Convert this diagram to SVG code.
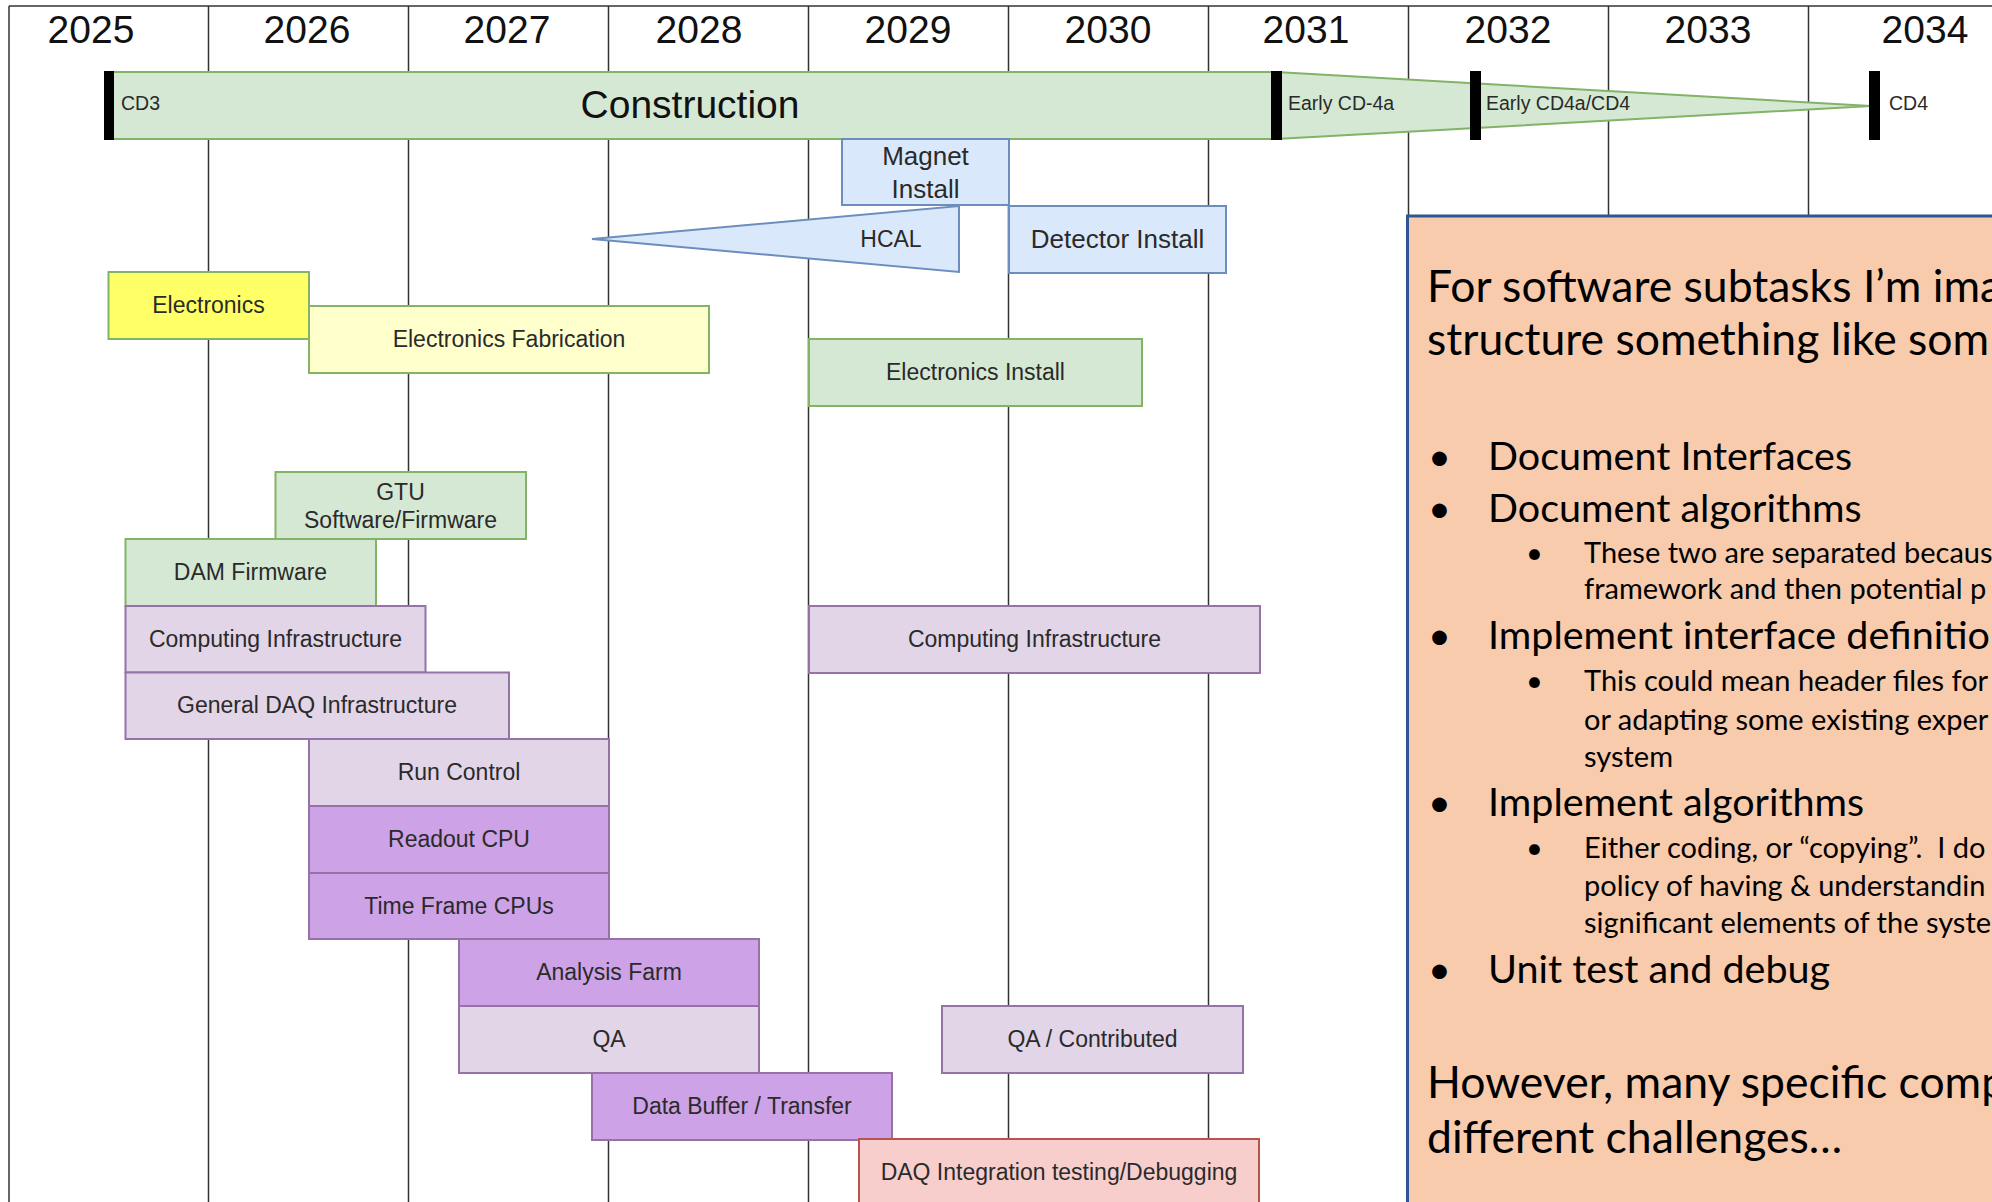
<svg xmlns="http://www.w3.org/2000/svg" width="1992" height="1202" viewBox="0 0 1992 1202">
<style>
.grid{stroke:#333;stroke-width:1.5;fill:none}
.yr{font-family:"Liberation Sans",Arial,sans-serif;font-size:39px;fill:#111;text-anchor:middle}
.lbl{font-family:"Liberation Sans",Arial,sans-serif;font-size:23px;fill:#2a2a2a;text-anchor:middle}
.big{font-family:"Liberation Sans",Arial,sans-serif;font-size:26px;fill:#2a2a2a;text-anchor:middle}
.ms{font-family:"Liberation Sans",Arial,sans-serif;font-size:19.5px;fill:#2a2a2a}
.green{fill:#d5e8d4;stroke:#82b366;stroke-width:2}
.yel{fill:#ffff66;stroke:#82b366;stroke-width:2}
.lyel{fill:#ffffcc;stroke:#82b366;stroke-width:2}
.blue{fill:#dae8fc;stroke:#6c8ebf;stroke-width:2}
.lpur{fill:#e1d5e7;stroke:#9673a6;stroke-width:2}
.dpur{fill:#cda2e6;stroke:#9673a6;stroke-width:2}
.red{fill:#f8cecc;stroke:#b85450;stroke-width:2}
.bar{fill:#000}
.note{font-family:Lato,"Liberation Sans",sans-serif;fill:#000}
.h{font-size:44.5px}
.b{font-size:39.5px}
.s{font-size:29px}
</style>
<rect width="1992" height="1202" fill="#fff"/>
<g id="grid">
<line class="grid" x1="9" y1="6" x2="1992" y2="6"/>
<line class="grid" x1="9" y1="6" x2="9" y2="1202"/>
<line class="grid" x1="208.5" y1="6" x2="208.5" y2="1202"/>
<line class="grid" x1="408.5" y1="6" x2="408.5" y2="1202"/>
<line class="grid" x1="608.5" y1="6" x2="608.5" y2="1202"/>
<line class="grid" x1="808.5" y1="6" x2="808.5" y2="1202"/>
<line class="grid" x1="1008.5" y1="6" x2="1008.5" y2="1202"/>
<line class="grid" x1="1208.5" y1="6" x2="1208.5" y2="1202"/>
<line class="grid" x1="1408.5" y1="6" x2="1408.5" y2="216"/>
<line class="grid" x1="1608.5" y1="6" x2="1608.5" y2="216"/>
<line class="grid" x1="1808.5" y1="6" x2="1808.5" y2="216"/>
</g>
<g id="years">
<text class="yr" x="91" y="43">2025</text>
<text class="yr" x="307" y="43">2026</text>
<text class="yr" x="507" y="43">2027</text>
<text class="yr" x="699" y="43">2028</text>
<text class="yr" x="908" y="43">2029</text>
<text class="yr" x="1108" y="43">2030</text>
<text class="yr" x="1306" y="43">2031</text>
<text class="yr" x="1508" y="43">2032</text>
<text class="yr" x="1708" y="43">2033</text>
<text class="yr" x="1925" y="43">2034</text>
</g>
<g id="construction">
<polygon class="green" points="105,72 1276,72 1871,106 1276,139 105,139"/>
<rect class="bar" x="104" y="71" width="10" height="69"/>
<rect class="bar" x="1271" y="71" width="11" height="69"/>
<rect class="bar" x="1470" y="71" width="11" height="69"/>
<rect class="bar" x="1869" y="71" width="11" height="69"/>
<text class="yr" x="690" y="118">Construction</text>
<text class="ms" x="121" y="110">CD3</text>
<text class="ms" x="1288" y="110">Early CD-4a</text>
<text class="ms" x="1486" y="110">Early CD4a/CD4</text>
<text class="ms" x="1889" y="110">CD4</text>
</g>
<g id="magnet-install">
<rect class="blue" x="842" y="139" width="167" height="66"/>
<text class="big" x="925.5" y="165">Magnet</text>
<text class="big" x="925.5" y="198">Install</text>
</g>
<g id="hcal">
<polygon class="blue" points="592,239 959,206 959,272"/>
<text class="lbl" x="891" y="247">HCAL</text>
</g>
<g id="detector-install">
<rect class="blue" x="1009" y="206" width="217" height="67"/>
<text class="big" x="1117.5" y="248">Detector Install</text>
</g>
<g id="electronics">
<rect class="yel" x="108.5" y="272" width="200.5" height="67"/>
<text class="lbl" x="208.5" y="313">Electronics</text>
</g>
<g id="electronics-fabrication">
<rect class="lyel" x="309" y="306" width="400" height="67"/>
<text class="lbl" x="509" y="347">Electronics Fabrication</text>
</g>
<g id="electronics-install">
<rect class="green" x="809" y="339" width="333" height="67"/>
<text class="lbl" x="975.5" y="380">Electronics Install</text>
</g>
<g id="gtu">
<rect class="green" x="275.5" y="472" width="250.5" height="67"/>
<text class="lbl" x="400.5" y="500">GTU</text>
<text class="lbl" x="400.5" y="528">Software/Firmware</text>
</g>
<g id="dam-firmware">
<rect class="green" x="125.5" y="539" width="250.5" height="67"/>
<text class="lbl" x="250.5" y="580">DAM Firmware</text>
</g>
<g id="computing-infrastructure-1">
<rect class="lpur" x="125.5" y="606" width="300" height="66.5"/>
<text class="lbl" x="275.5" y="647">Computing Infrastructure</text>
</g>
<g id="general-daq">
<rect class="lpur" x="125.5" y="672.5" width="383.5" height="66.5"/>
<text class="lbl" x="317" y="713">General DAQ Infrastructure</text>
</g>
<g id="run-control">
<rect class="lpur" x="309" y="739" width="300" height="67"/>
<text class="lbl" x="459" y="780">Run Control</text>
</g>
<g id="readout-cpu">
<rect class="dpur" x="309" y="806" width="300" height="67"/>
<text class="lbl" x="459" y="847">Readout CPU</text>
</g>
<g id="time-frame-cpus">
<rect class="dpur" x="309" y="873" width="300" height="66"/>
<text class="lbl" x="459" y="914">Time Frame CPUs</text>
</g>
<g id="analysis-farm">
<rect class="dpur" x="459" y="939" width="300" height="67"/>
<text class="lbl" x="609" y="980">Analysis Farm</text>
</g>
<g id="qa">
<rect class="lpur" x="459" y="1006" width="300" height="67"/>
<text class="lbl" x="609" y="1047">QA</text>
</g>
<g id="data-buffer">
<rect class="dpur" x="592" y="1073" width="300" height="67"/>
<text class="lbl" x="742" y="1114">Data Buffer / Transfer</text>
</g>
<g id="computing-infrastructure-2">
<rect class="lpur" x="809" y="606" width="451" height="67"/>
<text class="lbl" x="1034.5" y="647">Computing Infrastructure</text>
</g>
<g id="qa-contributed">
<rect class="lpur" x="942" y="1006" width="301" height="67"/>
<text class="lbl" x="1092.5" y="1047">QA / Contributed</text>
</g>
<g id="daq-integration">
<rect class="red" x="859" y="1139" width="400" height="67"/>
<text class="lbl" x="1059" y="1180">DAQ Integration testing/Debugging</text>
</g>
<g id="connectors"></g>
<g id="note">
<rect x="1407.5" y="216" width="620" height="1020" fill="#f8cbad" stroke="#2f5597" stroke-width="3"/>
<text class="note h" x="1427" y="302">For software subtasks I’m ima</text>
<text class="note h" x="1427" y="355">structure something like som</text>
<text class="note b" x="1428" y="470">•</text>
<text class="note b" x="1488" y="470">Document Interfaces</text>
<text class="note b" x="1428" y="522">•</text>
<text class="note b" x="1488" y="522">Document algorithms</text>
<text class="note s" x="1526" y="563">•</text>
<text class="note s" x="1584" y="563">These two are separated becaus</text>
<text class="note s" x="1584" y="599">framework and then potential p</text>
<text class="note b" x="1428" y="649">•</text>
<text class="note b" x="1488" y="649">Implement interface definitio</text>
<text class="note s" x="1526" y="691">•</text>
<text class="note s" x="1584" y="691">This could mean header files for</text>
<text class="note s" x="1584" y="730">or adapting some existing exper</text>
<text class="note s" x="1584" y="767">system</text>
<text class="note b" x="1428" y="816">•</text>
<text class="note b" x="1488" y="816">Implement algorithms</text>
<text class="note s" x="1526" y="858">•</text>
<text class="note s" x="1584" y="858" style="white-space:pre">Either coding, or “copying”.  I do</text>
<text class="note s" x="1584" y="896">policy of having &amp; understandin</text>
<text class="note s" x="1584" y="933">significant elements of the syste</text>
<text class="note b" x="1428" y="983">•</text>
<text class="note b" x="1488" y="983">Unit test and debug</text>
<text class="note h" x="1427" y="1098">However, many specific comp</text>
<text class="note h" x="1427" y="1153">different challenges…</text>
</g>
</svg>
